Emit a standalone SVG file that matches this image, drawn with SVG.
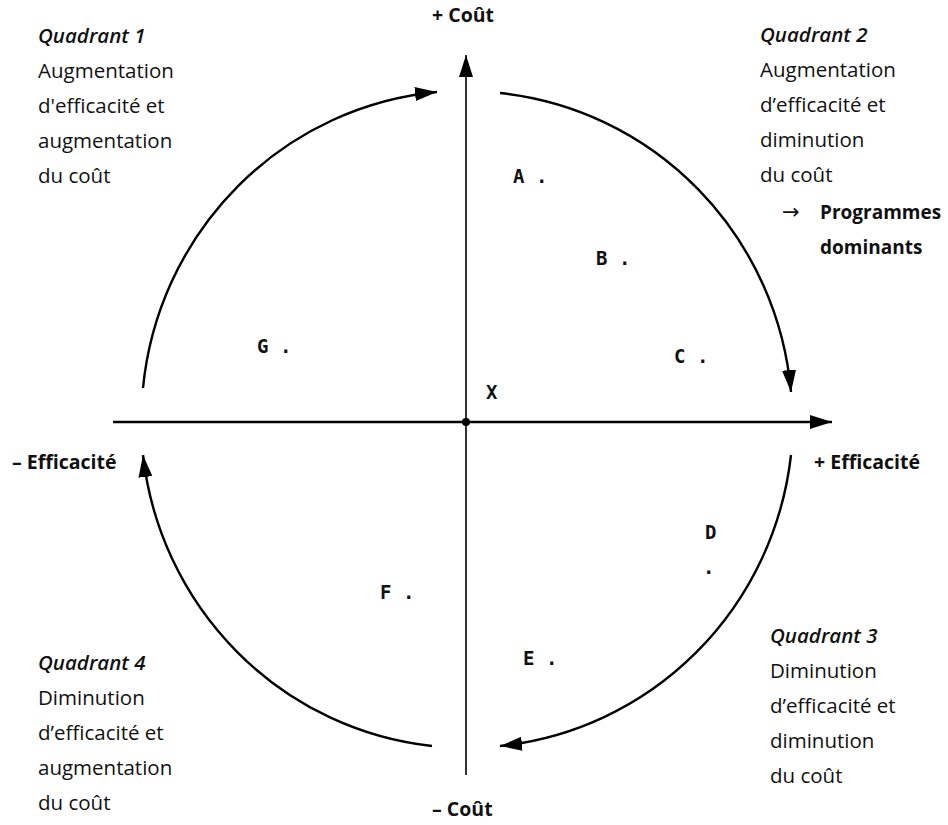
<svg xmlns="http://www.w3.org/2000/svg" width="948" height="825" viewBox="0 0 948 825">
<defs>
<marker id="ah" markerUnits="userSpaceOnUse" viewBox="0 0 22 14" refX="22" refY="7" markerWidth="22" markerHeight="14" orient="auto"><path d="M0,0 L22,7 L0,14 z" fill="#000"/></marker>
</defs>
<style>
.t{font-family:"Open Sans","Liberation Sans",sans-serif;font-size:20.5px;fill:#111}
.q{font-style:italic;font-weight:600}
.pd{font-family:"Open Sans","Liberation Sans",sans-serif;font-size:19px;font-weight:bold;fill:#111}
.b{font-family:"Open Sans","Liberation Sans",sans-serif;font-size:19.5px;font-weight:bold;fill:#111}
.p{font-family:"DejaVu Sans Mono","Liberation Mono",monospace;font-size:19px;font-weight:bold;fill:#111}
.arc{fill:none;stroke:#000;stroke-width:2.4}
</style>
<rect width="948" height="825" fill="#fff"/>
<g id="connectors">
<line x1="466" y1="775" x2="466" y2="55" stroke="#000" stroke-width="1.6" marker-end="url(#ah)"/>
<line x1="113" y1="422" x2="832" y2="422" stroke="#000" stroke-width="2.4" marker-end="url(#ah)"/>
<path class="arc" d="M143,388 A326,330 0 0 1 437,92" marker-end="url(#ah)"/>
<path class="arc" d="M500,93 A326,330 0 0 1 791,392" marker-end="url(#ah)"/>
<path class="arc" d="M791,455 A326,330 0 0 1 500,746" marker-end="url(#ah)"/>
<path class="arc" d="M432,746 A326,330 0 0 1 143,455" marker-end="url(#ah)"/>
<circle cx="466" cy="422" r="4" fill="#000"/>
</g>
<g id="axis-cout-plus"><text class="b" x="432" y="22">+ Coût</text></g>
<g id="axis-cout-minus"><text class="b" x="432" y="816">– Coût</text></g>
<g id="axis-eff-minus"><text class="b" x="12" y="469">– Efficacité</text></g>
<g id="axis-eff-plus"><text class="b" x="814" y="469">+ Efficacité</text></g>
<g id="quadrant1">
<text class="t q" x="38" y="43">Quadrant 1</text>
<text class="t" x="38" y="78">Augmentation</text>
<text class="t" x="38" y="113">d'efficacité et</text>
<text class="t" x="38" y="148">augmentation</text>
<text class="t" x="38" y="183">du coût</text>
</g>
<g id="quadrant2">
<text class="t q" x="760" y="42">Quadrant 2</text>
<text class="t" x="760" y="77">Augmentation</text>
<text class="t" x="760" y="112">d’efficacité et</text>
<text class="t" x="760" y="147">diminution</text>
<text class="t" x="760" y="182">du coût</text>
<text x="782" y="219" font-family="DejaVu Sans, sans-serif" font-size="21" fill="#111">→</text>
<text class="pd" x="820" y="219">Programmes</text>
<text class="pd" x="820" y="254">dominants</text>
</g>
<g id="quadrant3">
<text class="t q" x="770" y="643">Quadrant 3</text>
<text class="t" x="770" y="678">Diminution</text>
<text class="t" x="770" y="713">d’efficacité et</text>
<text class="t" x="770" y="748">diminution</text>
<text class="t" x="770" y="783">du coût</text>
</g>
<g id="quadrant4">
<text class="t q" x="38" y="670">Quadrant 4</text>
<text class="t" x="38" y="705">Diminution</text>
<text class="t" x="38" y="740">d’efficacité et</text>
<text class="t" x="38" y="775">augmentation</text>
<text class="t" x="38" y="810">du coût</text>
</g>
<g id="point-A"><text class="p" x="513" y="183">A .</text></g>
<g id="point-B"><text class="p" x="596" y="265">B .</text></g>
<g id="point-C"><text class="p" x="674" y="363">C .</text></g>
<g id="point-G"><text class="p" x="257" y="353">G .</text></g>
<g id="point-X"><text class="p" x="486" y="399">X</text></g>
<g id="point-D"><text class="p" x="705" y="539">D</text><text class="p" x="703" y="574">.</text></g>
<g id="point-F"><text class="p" x="380" y="599">F .</text></g>
<g id="point-E"><text class="p" x="523" y="665">E .</text></g>
</svg>
